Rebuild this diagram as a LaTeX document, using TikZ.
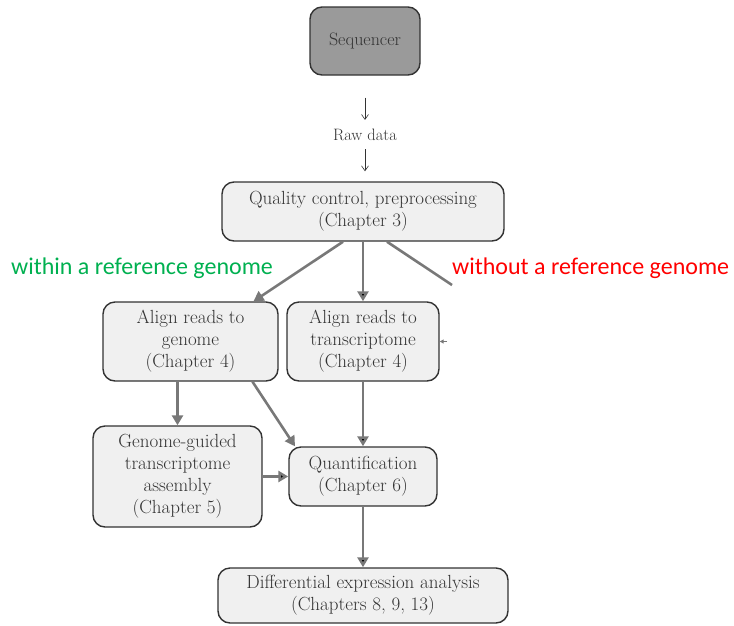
\documentclass[tikz,border=0pt]{standalone}
\usepackage{fontspec}
\newfontfamily\labelfont{Carlito}
\usetikzlibrary{positioning,arrows.meta}
\definecolor{boxfill}{HTML}{F0F0F0}
\definecolor{boxline}{HTML}{333333}
\definecolor{boxtext}{HTML}{333333}
\definecolor{seqfill}{HTML}{9A9A9A}
\definecolor{flowgray}{HTML}{787878}
\definecolor{withgreen}{HTML}{00B050}
\tikzset{main node/.style={rectangle,rounded corners=12pt,draw=boxline,fill=boxfill,line width=1.4pt,align=center,text=boxtext,font=\fontsize{19}{22}\selectfont,inner sep=0pt},
flow/.style={draw=flowgray,line width=2.6pt,-{Triangle[length=10pt,width=11pt]}},
thin flow/.style={draw=boxtext,line width=0.6pt,-{Straight Barb[length=5pt,width=7pt]}},
side label/.style={font=\labelfont\fontsize{24}{28}\selectfont,inner sep=0pt},
}

\begin{document}
\begin{tikzpicture}[x=1pt,y=-1pt]
	\useasboundingbox (0,0) rectangle (734,625);
	\node[main node,fill=seqfill,minimum width=110pt,minimum height=68pt,font=\fontsize{18}{22}\selectfont] (seq) at (365,41) {Sequencer};
	\node[text=boxtext,font=\fontsize{16.5}{20}\selectfont,inner sep=0pt] (raw) at (365,135) {Raw data};
	\node[main node,minimum width=282pt,minimum height=59pt] (qc) at (363,211.5) {Quality control, preprocessing\\(Chapter 3)};
	\node[main node,minimum width=175pt,minimum height=79pt] (genome) at (190.5,341.5) {Align reads to\\genome\\(Chapter 4)};
	\node[main node,minimum width=152pt,minimum height=79pt] (transcript) at (363,341.5) {Align reads to\\transcriptome\\(Chapter 4)};
	\node[main node,minimum width=169pt,minimum height=101pt] (guided) at (177.5,476.5) {Genome-guided\\transcriptome\\assembly\\(Chapter 5)};
	\node[main node,minimum width=148pt,minimum height=59pt] (quant) at (363,476.5) {Quantification\\(Chapter 6)};
	\node[main node,minimum width=290pt,minimum height=55pt] (dea) at (363,595.5) {Differential expression analysis\\(Chapters 8, 9, 13)};
	
	\node[side label,text=withgreen] (within) at (142,268) {within a reference genome};
	\node[side label,text=red,anchor=west] (without) at (452,268) {without a reference genome};
	
	\coordinate (cut) at (452,285);
	\coordinate (stub) at (447,341.5);
	
	% sequencer to qc
	\draw[thin flow] ([yshift=-22pt]seq.south -| raw) -- ([yshift=9pt]raw.north);
	\draw[thin flow] ([yshift=-8pt]raw.south) -- ([yshift=10pt]qc.north -| raw);
	
	\draw[flow] ([xshift=-20pt]qc.south) -- ([xshift=63pt]genome.north);
	\draw[flow] ([xshift=62pt]genome.south) -- ([xshift=-68pt]quant.north);
	\draw[flow] (guided.north |- genome.south) -- (guided.north);
	\path[flow]
	(qc) edge (transcript)
	(transcript) edge (quant)
	(guided) edge (quant)
	(quant) edge (dea);
	\draw[draw=flowgray,line width=2.6pt] ([xshift=24pt]qc.south) -- (cut);
	\draw[draw=flowgray,line width=1pt,-{Triangle[length=4pt,width=4pt]}] (stub) -- (transcript.east);
\end{tikzpicture}
\end{document}
